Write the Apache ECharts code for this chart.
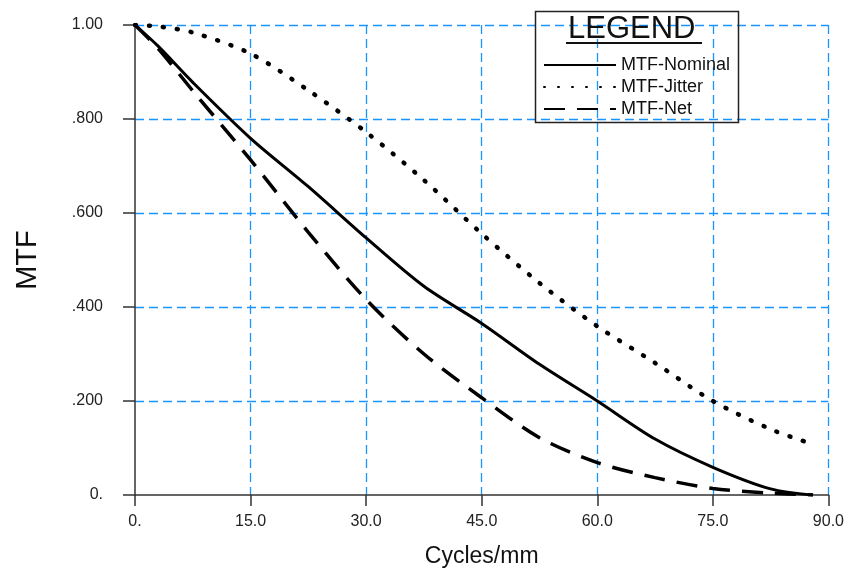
<!DOCTYPE html>
<html>
<head>
<meta charset="utf-8">
<script src="https://cdn.jsdelivr.net/npm/echarts@6/dist/echarts.min.js"></script>
<style>
html,body{margin:0;padding:0;background:#fff;}
#chart{width:847px;height:575px;}
</style>
</head>
<body>
<div id="chart"></div>
<script>
// ---- data ----
const cycles  = [0, 3, 7.5, 15, 22.5, 30, 37.5, 45, 52.5, 60, 67.5, 75, 82.5, 88];
const mtfNominal = [1.00, 0.955, 0.878, 0.759, 0.656, 0.547, 0.444, 0.365, 0.278, 0.200, 0.119, 0.059, 0.013, 0.000];
const mtfJitter  = [1.00, 0.997, 0.984, 0.939, 0.861, 0.772, 0.670, 0.556, 0.451, 0.359, 0.281, 0.200, 0.140, 0.108];
const mtfNet     = [1.00, 0.950, 0.860, 0.713, 0.559, 0.416, 0.300, 0.207, 0.122, 0.069, 0.037, 0.014, 0.004, 0.000];
const seriesNames = ['MTF-Nominal', 'MTF-Jitter', 'MTF-Net'];
const xTickLabels = ['0.', '15.0', '30.0', '45.0', '60.0', '75.0', '90.0'];
const yTickLabels = ['0.', '.200', '.400', '.600', '.800', '1.00'];
const xTitle = 'Cycles/mm';
const yTitle = 'MTF';
const legendTitle = 'LEGEND';

function pairs(xs, ys){ return xs.map((x,i)=>[x, ys[i]]); }

const chart = echarts.init(document.getElementById('chart'), null, {renderer:'canvas'});
const gridColor = '#1a94ff';
const axisColor = '#333';
const font = 'Liberation Sans, Arial, sans-serif';
const gridLine = {show: true, showMinLine: false, showMaxLine: true,
  lineStyle: {color: gridColor, type: [9,5], width: 1.3, opacity: 1}};

const option = {
  backgroundColor: '#fff',
  animation: false,
  grid: {left: 135, right: 16, top: 25, bottom: 80, containLabel: false},
  xAxis: {
    type: 'value', min: 0, max: 90, interval: 15,
    name: xTitle, nameLocation: 'middle', nameGap: 50,
    nameTextStyle: {fontFamily: font, fontSize: 23, color: '#111'},
    axisLine: {show: true, onZero: false, lineStyle: {color: axisColor, width: 1.5}},
    axisTick: {show: true, length: 11, lineStyle: {color: axisColor, width: 1.5}},
    axisLabel: {margin: 19, fontFamily: font, fontSize: 16, color: '#222',
      formatter: v => xTickLabels[Math.round(v/15)]},
    splitLine: gridLine
  },
  yAxis: {
    type: 'value', min: 0, max: 1, interval: 0.2,
    name: yTitle, nameLocation: 'middle', nameGap: 93, nameRotate: 90,
    nameTextStyle: {fontFamily: font, fontSize: 29, color: '#111'},
    axisLine: {show: true, onZero: false, lineStyle: {color: axisColor, width: 1.5}},
    axisTick: {show: true, length: 12, lineStyle: {color: axisColor, width: 1.5}},
    axisLabel: {margin: 32, fontFamily: font, fontSize: 16, color: '#222',
      formatter: v => yTickLabels[Math.round(v/0.2)]},
    splitLine: gridLine
  },
  legend: {
    orient: 'vertical', left: 538, top: 51,
    itemWidth: 72, itemHeight: 14, itemGap: 4,
    itemStyle: {opacity: 0},
    textStyle: {fontFamily: font, fontSize: 18, color: '#111'},
    data: seriesNames
  },
  graphic: [
    {type: 'rect', left: 533, top: 9, shape: {width: 203, height: 111},
     style: {fill: 'none', stroke: '#222', lineWidth: 1.5}, z: 100},
    {type: 'text', left: 568, top: 14, z: 101,
     style: {text: legendTitle, fontFamily: font, fontSize: 31, fill: '#111'}},
    {type: 'line', shape: {x1: 566, y1: 43, x2: 702, y2: 43}, style: {stroke: '#111', lineWidth: 2}, z: 101}
  ],
  series: [
    {name: seriesNames[0], type: 'line', data: pairs(cycles, mtfNominal), smooth: 0.3,
     showSymbol: false, symbol: 'none', lineStyle: {color: '#000', width: 3, type: 'solid'}, itemStyle:{color:'#000'}, z: 5},
    {name: seriesNames[1], type: 'line', data: pairs(cycles, mtfJitter), smooth: 0.3,
     showSymbol: false, symbol: 'none', lineStyle: {color: '#000', width: 4.5, type: [1, 13], cap: 'round'}, itemStyle:{color:'#000'}, z: 5},
    {name: seriesNames[2], type: 'line', data: pairs(cycles, mtfNet), smooth: 0.3,
     showSymbol: false, symbol: 'none', lineStyle: {color: '#000', width: 3.5, type: [21, 12]}, itemStyle:{color:'#000'}, z: 5}
  ]
};
chart.setOption(option);
</script>
</body>
</html>
